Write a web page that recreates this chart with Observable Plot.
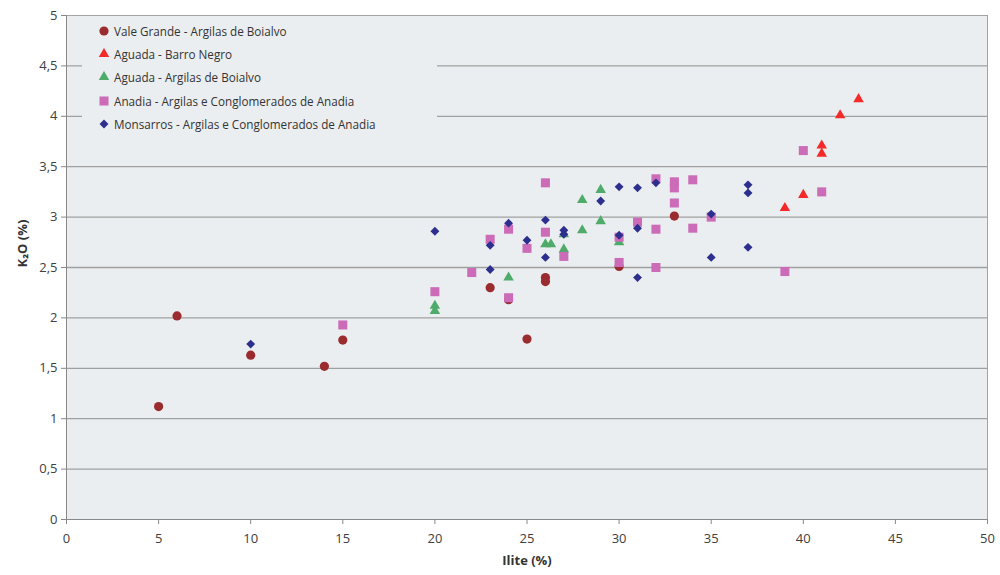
<!DOCTYPE html>
<html>
<head>
<meta charset="utf-8">
<script src="https://cdn.jsdelivr.net/npm/d3@7"></script>
<script src="https://cdn.jsdelivr.net/npm/@observablehq/plot@0.6"></script>
<style>
  body { margin: 0; background: #fff; }
  #wrap { position: relative; width: 1000px; height: 575px; font-family: "Open Sans", sans-serif; }
  #legend { position: absolute; left: 82px; top: 17px; width: 355px; height: 118px; background: #ebeef0; }
  .li { position: absolute; left: 16px; height: 16px; display: flex; align-items: center; font-size: 11.7px; color: #333; white-space: nowrap; }
  .li svg { margin-right: 4px; }
</style>
</head>
<body>
<div id="wrap"></div>
<script>
// ---- data ----
const seriesNames = [
  "Vale Grande - Argilas de Boialvo",
  "Aguada - Barro Negro",
  "Aguada - Argilas de Boialvo",
  "Anadia - Argilas e Conglomerados de Anadia",
  "Monsarros - Argilas e Conglomerados de Anadia"
];
const valeX = [5, 6, 10, 14, 15, 23, 24, 25, 26, 26, 30, 33];
const valeY = [1.12, 2.02, 1.63, 1.52, 1.78, 2.30, 2.18, 1.79, 2.40, 2.36, 2.51, 3.01];
const barroX = [39, 40, 41, 41, 42, 43];
const barroY = [3.09, 3.22, 3.71, 3.63, 4.01, 4.17];
const aguadaX = [20, 20, 24, 26, 26.3, 27, 27, 28, 28, 29, 29, 30];
const aguadaY = [2.12, 2.07, 2.40, 2.73, 2.73, 2.68, 2.83, 2.87, 3.17, 3.27, 2.96, 2.75];
const anadiaX = [15, 20, 22, 23, 24, 24, 25, 26, 26, 27, 30, 30, 31, 32, 32, 32, 33, 33, 33, 34, 34, 35, 39, 40, 41];
const anadiaY = [1.93, 2.26, 2.45, 2.78, 2.88, 2.20, 2.69, 3.34, 2.85, 2.61, 2.55, 2.80, 2.95, 3.38, 2.88, 2.50, 3.35, 3.29, 3.14, 3.37, 2.89, 3.00, 2.46, 3.66, 3.25];
const monsX = [10, 20, 23, 23, 24, 25, 26, 26, 27, 27, 29, 30, 30, 31, 31, 31, 32, 35, 35, 37, 37, 37];
const monsY = [1.74, 2.86, 2.72, 2.48, 2.94, 2.77, 2.97, 2.60, 2.87, 2.83, 3.16, 3.30, 2.82, 3.29, 2.89, 2.40, 3.34, 3.03, 2.60, 3.32, 3.24, 2.70];
const xTicks = [0, 5, 10, 15, 20, 25, 30, 35, 40, 45, 50];
const yTicks = [0, 0.5, 1, 1.5, 2, 2.5, 3, 3.5, 4, 4.5, 5];
const colors = ["#9a2b2e", "#f42a2a", "#4fab6a", "#cc6cb9", "#2d2f8f"];
const symbols = ["circle", "triangle", "triangle", "square", "diamond2"];
const radii = [4.6, 3.9, 3.9, 5.1, 4.0];

const pts = (xs, ys) => xs.map((x, i) => ({x, y: ys[i]}));
const sets = [pts(valeX, valeY), pts(barroX, barroY), pts(aguadaX, aguadaY), pts(anadiaX, anadiaY), pts(monsX, monsY)];

const fmt = d => String(d).replace(".", ",");

const chart = Plot.plot({
  width: 1000,
  height: 575,
  marginLeft: 66,
  marginRight: 13,
  marginTop: 15,
  marginBottom: 56,
  style: {fontFamily: "Open Sans, sans-serif", fontSize: "13px", color: "#404040", background: "#fff"},
  x: {domain: [0, 50]},
  y: {domain: [0, 5]},
  marks: [
    Plot.frame({fill: "#ebeef0", stroke: "#a3a3a3"}),
    Plot.ruleY(yTicks.filter(d => d > 0 && d < 5), {stroke: "#a0a0a0", strokeWidth: 1.3}),
    Plot.axisY({ticks: yTicks, tickFormat: fmt, tickSize: 5, tickPadding: 4, label: null, stroke: "#888"}),
    Plot.axisX({ticks: xTicks, tickSize: 5, tickPadding: 9, label: null, stroke: "#888"}),
    Plot.ruleX([0], {stroke: "#888"}),
    Plot.ruleY([0], {stroke: "#888"}),
    ...sets.map((data, i) => Plot.dot(data, {x: "x", y: "y", symbol: symbols[i], r: radii[i], fill: colors[i], stroke: "none"})),
    Plot.text(["Ilite (%)"], {frameAnchor: "bottom", dy: 45, fontWeight: "bold", fontSize: 13, fill: "#333"}),
    Plot.text(["K₂O (%)"], {frameAnchor: "left", dx: -44, rotate: -90, fontWeight: "bold", fontSize: 13, fill: "#333"})
  ]
});

const wrap = document.getElementById("wrap");
wrap.appendChild(chart);

// legend overlay
const legend = document.createElement("div");
legend.id = "legend";
const rowsY = [6, 29, 52, 76, 99];
const symPaths = {
  circle: d3.symbol(d3.symbolCircle, Math.PI * 4.6 * 4.6)(),
  triangle: d3.symbol(d3.symbolTriangle, Math.PI * 3.9 * 3.9)(),
  square: d3.symbol(d3.symbolSquare, Math.PI * 5.1 * 5.1)(),
  diamond2: d3.symbol(d3.symbolDiamond2, Math.PI * 4.0 * 4.0)()
};
seriesNames.forEach((name, i) => {
  const row = document.createElement("div");
  row.className = "li";
  row.style.top = rowsY[i] + "px";
  row.innerHTML = `<svg width="12" height="12" viewBox="-6 -6 12 12"><path d="${symPaths[symbols[i]]}" fill="${colors[i]}"/></svg><span>${name}</span>`;
  legend.appendChild(row);
});
wrap.appendChild(legend);
</script>
</body>
</html>
